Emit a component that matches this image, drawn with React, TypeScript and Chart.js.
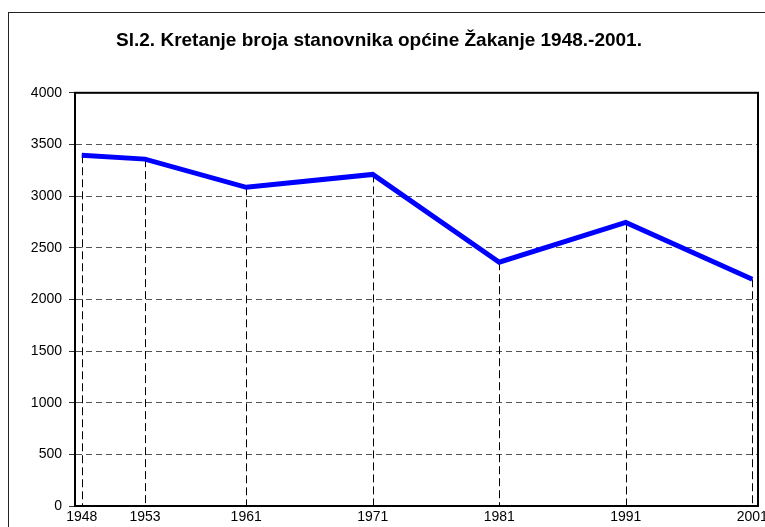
import React, { useEffect, useRef } from "react";
import { Chart, registerables } from "chart.js";

Chart.register(...registerables);

const titleText = "Sl.2. Kretanje broja stanovnika općine Žakanje 1948.-2001.";
const years = [1948, 1953, 1961, 1971, 1981, 1991, 2001];
const population = [3395, 3358, 3085, 3210, 2360, 2745, 2195];
const yTicks = [0, 500, 1000, 1500, 2000, 2500, 3000, 3500, 4000];

const FONT = "'Liberation Sans', Arial, sans-serif";

const framePlugin = {
  id: "frameAndDrops",
  beforeDatasetsDraw(chart: any) {
    const ctx = chart.ctx;
    const area = chart.chartArea;
    const meta = chart.getDatasetMeta(0);
    ctx.save();
    ctx.strokeStyle = "#000";
    ctx.lineWidth = 1;
    ctx.setLineDash([8, 4]);
    meta.data.forEach((pt: any) => {
      const x = Math.round(pt.x) + 0.5;
      ctx.beginPath();
      ctx.moveTo(x, pt.y);
      ctx.lineTo(x, area.bottom);
      ctx.stroke();
    });
    ctx.restore();
  },
  afterDraw(chart: any) {
    const ctx = chart.ctx;
    const area = chart.chartArea;
    ctx.save();
    ctx.setLineDash([]);
    ctx.strokeStyle = "#000";
    ctx.lineWidth = 2;
    ctx.strokeRect(area.left, area.top, area.right - area.left, area.bottom - area.top);
    ctx.lineWidth = 1;
    ctx.strokeStyle = "#222";
    ctx.strokeRect(8.5, 12.5, 900, 700);
    ctx.restore();
  },
};

export default function App() {
  const ref = useRef<HTMLCanvasElement | null>(null);
  useEffect(() => {
    if (!ref.current) return;
    const chart = new Chart(ref.current, {
      type: "line",
      data: {
        datasets: [
          {
            data: years.map((y, i) => ({ x: y, y: population[i] })),
            borderColor: "#0000ff",
            backgroundColor: "#0000ff",
            borderWidth: 5,
            pointRadius: 0,
            tension: 0,
            fill: false,
          },
        ],
      },
      options: {
        animation: false,
        responsive: false,
        maintainAspectRatio: false,
        layout: { padding: { left: 0, right: 7, top: 0, bottom: 0 } },
        plugins: {
          legend: { display: false },
          tooltip: { enabled: false },
          title: {
            display: true,
            text: titleText,
            color: "#000",
            font: { family: FONT, size: 19, weight: "bold", lineHeight: 1.2 },
            padding: { top: 29, bottom: 41 },
          },
        },
        scales: {
          x: {
            type: "linear",
            min: 1947.47,
            max: 2001.45,
            afterBuildTicks: (s: any) => {
              s.ticks = years.map((v) => ({ value: v }));
            },
            afterFit: (s: any) => {
              s.height = 21;
              s.paddingLeft = 0;
              s.paddingRight = 0;
            },
            grid: { display: false, drawTicks: false },
            border: { display: true, color: "#000", width: 2 },
            ticks: {
              color: "#000",
              font: { family: FONT, size: 14 },
              padding: 3,
              maxRotation: 0,
              autoSkip: false,
              callback: (v: any) => String(v),
            },
          },
          y: {
            min: 0,
            max: 4000,
            afterBuildTicks: (s: any) => {
              s.ticks = yTicks.map((v) => ({ value: v }));
            },
            afterFit: (s: any) => {
              s.width = 75;
              s.paddingTop = 0;
              s.paddingBottom = 0;
            },
            grid: {
              color: (c: any) =>
                c.tick && (c.tick.value === 0 || c.tick.value === 4000) ? "rgba(0,0,0,0)" : "#555",
              lineWidth: 1,
              drawTicks: true,
              tickLength: 6,
              tickColor: "#333",
              tickBorderDash: [],
            },
            border: { display: true, color: "#000", width: 2, dash: [6, 4] },
            ticks: {
              color: "#000",
              font: { family: FONT, size: 14 },
              padding: 7,
              autoSkip: false,
              callback: (v: any) => String(v),
            },
          },
        },
      },
      plugins: [framePlugin],
    } as any);
    return () => chart.destroy();
  }, []);
  return (
    <div style={{ position: "fixed", left: 0, top: 0, width: 765, height: 527, background: "#fff" }}>
      <canvas ref={ref} width={765} height={527} style={{ width: 765, height: 527, display: "block" }} />
    </div>
  );
}
